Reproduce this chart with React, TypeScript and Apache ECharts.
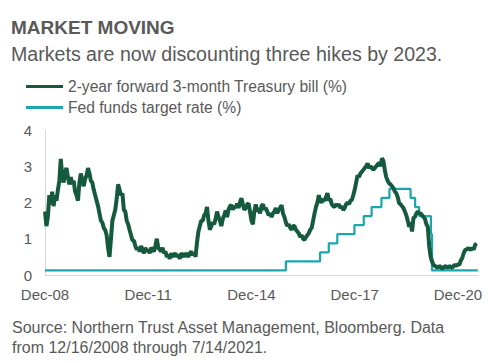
import React, { useEffect, useRef } from "react";
import * as echarts from "echarts";

const titleText = "MARKET MOVING";
const subtitleText = "Markets are now discounting three hikes by 2023.";
const sourceLines = [
  "Source: Northern Trust Asset Management, Bloomberg. Data",
  "from 12/16/2008 through 7/14/2021.",
];
const seriesNames = ["2-year forward 3-month Treasury bill (%)", "Fed funds target rate (%)"];
const xTickLabels = ["Dec-08", "Dec-11", "Dec-14", "Dec-17", "Dec-20"];
const yTicks = [0, 1, 2, 3, 4];

// 2-year forward 3-month T-bill, two readings per month starting 2008-12-16
const greenStart = "2008-12-16";
const greenValues = [
  1.75, 1.35, 1.6, 2.2, 1.95, 2.3, 1.9, 2.2, 2.05, 2.35,
  2.6, 3.2, 2.75, 2.55, 2.85, 2.95, 2.7, 2.5, 2.7, 2.5,
  2.6, 2.3, 2.2, 2.05, 2.55, 2.8, 2.6, 2.45, 2.65, 2.75,
  2.95, 2.8, 2.6, 2.55, 2.35, 2.2, 2.05, 1.9, 1.7, 1.5,
  1.45, 1.3, 1.24, 1.1, 0.75, 0.5, 1.0, 1.5, 1.65, 1.8,
  2.1, 2.5, 2.35, 2.2, 2.25, 1.8, 1.75, 1.5, 1.4, 1.24,
  1.1, 0.95, 0.95, 0.8, 0.7, 0.75, 0.65, 0.8, 0.7, 0.6,
  0.75, 0.65, 0.7, 0.6, 0.75, 0.7, 0.65, 0.8, 1.0, 0.75,
  0.7, 0.65, 0.75, 0.6, 0.65, 0.5, 0.55, 0.45, 0.6, 0.5,
  0.55, 0.6, 0.5, 0.55, 0.45, 0.6, 0.55, 0.5, 0.6, 0.55,
  0.5, 0.6, 0.65, 0.55, 0.6, 0.5, 0.9, 1.2, 1.35, 1.5,
  1.5, 1.65, 1.7, 1.88, 1.5, 1.25, 1.35, 1.45, 1.4, 1.55,
  1.75, 1.6, 1.5, 1.35, 1.55, 1.65, 1.78, 1.6, 1.8, 1.9,
  1.93, 1.8, 1.9, 1.85, 1.97, 1.85, 2.0, 2.12, 1.95, 1.8,
  1.85, 1.95, 1.97, 1.75, 1.5, 1.4, 1.75, 1.95, 1.75, 1.85,
  1.7, 1.9, 1.95, 1.8, 1.85, 1.75, 1.65, 1.7, 1.6, 1.7,
  1.75, 1.85, 1.7, 1.8, 1.85, 1.93, 1.7, 1.6, 1.45, 1.35,
  1.4, 1.3, 1.25, 1.35, 1.35, 1.25, 1.2, 1.15, 1.05, 1.1,
  1.0, 0.97, 1.05, 1.1, 1.15, 1.25, 1.3, 1.5, 1.7, 1.88,
  2.0, 2.2, 2.05, 2.0, 2.1, 2.05, 2.15, 2.26, 2.05, 2.1,
  1.95, 1.9, 1.88, 1.95, 1.9, 1.95, 1.85, 1.9, 1.79, 1.85,
  1.95, 2.0, 1.95, 2.05, 2.07, 2.2, 2.35, 2.55, 2.75, 2.7,
  2.8, 2.85, 2.9, 2.95, 3.0, 3.08, 2.95, 3.0, 2.95, 2.9,
  2.95, 3.0, 3.05, 3.1, 3.0, 3.22, 3.15, 2.9, 2.7, 2.6,
  2.53, 2.5, 2.45, 2.4, 2.3, 2.26, 2.15, 1.98, 1.95, 1.9,
  1.85, 1.75, 1.65, 1.5, 1.33, 1.45, 1.2, 1.58, 1.6, 1.7,
  1.75, 1.7, 1.7, 1.65, 1.6, 1.55, 1.4, 1.33, 0.78, 0.5,
  0.37, 0.28, 0.25, 0.22, 0.2, 0.25, 0.22, 0.18, 0.2, 0.25,
  0.22, 0.2, 0.25, 0.22, 0.2, 0.25, 0.28, 0.25, 0.3, 0.28,
  0.4, 0.47, 0.6, 0.69, 0.7, 0.74, 0.72, 0.69, 0.75, 0.7,
  0.83, 0.87,
];

// Fed funds target (midpoint of range), effective dates of changes
const fedDates = [
  "2008-12-16", "2015-12-16", "2016-12-14", "2017-03-15", "2017-06-14",
  "2017-12-13", "2018-03-21", "2018-06-13", "2018-09-26", "2018-12-19",
  "2019-07-31", "2019-09-18", "2019-10-30", "2020-03-03", "2020-03-15",
  "2021-07-14",
];
const fedRates = [
  0.125, 0.375, 0.625, 0.875, 1.125,
  1.375, 1.625, 1.875, 2.125, 2.375,
  2.125, 1.875, 1.625, 1.125, 0.125,
  0.125,
];

const dataEnd = "2021-07-14";

// months elapsed since the first observation (2008-12-16)
function toMonths(s: string): number {
  const [y, m, d] = s.split("-").map(Number);
  return (y - 2008) * 12 + (m - 12) + (d - 16) / 30.44;
}

const FONT = "'Liberation Sans', Arial, sans-serif";
const GREY = "#595959";
const GREEN = "#155a3e";
const TEAL = "#1ba6ae";

export default function App() {
  const ref = useRef<HTMLDivElement>(null);
  useEffect(() => {
    document.body.style.margin = "0";
    if (!ref.current) return;
    const chart = echarts.init(ref.current, undefined, { renderer: "svg" });
    const startM = toMonths(greenStart);
    const greenData = greenValues.map((v, i) => [startM + i * 0.5, v]);
    const fedData = fedDates.map((d, i) => [toMonths(d), fedRates[i]]);
    const xMax = Math.ceil(toMonths(dataEnd));

    chart.setOption({
      animation: false,
      backgroundColor: "#ffffff",
      textStyle: { fontFamily: FONT },
      title: [
        {
          text: titleText,
          left: 11,
          top: 18,
          padding: 0,
          textStyle: { fontFamily: FONT, fontSize: 19, fontWeight: "bold", color: GREY },
        },
        {
          text: subtitleText,
          left: 11,
          top: 44,
          padding: 0,
          textStyle: { fontFamily: FONT, fontSize: 19.6, fontWeight: "normal", color: GREY },
        },
      ],
      legend: {
        orient: "vertical",
        left: 26,
        top: 78,
        padding: 0,
        itemWidth: 37,
        itemHeight: 3,
        itemGap: 4,
        icon: "rect",
        textStyle: { fontFamily: FONT, fontSize: 15.6, color: GREY, lineHeight: 17 },
        data: seriesNames,
      },
      grid: { left: 45, right: 22, top: 130, bottom: 88, containLabel: false },
      xAxis: {
        type: "value",
        min: 0,
        max: xMax,
        interval: 36,
        axisLine: { show: true, lineStyle: { color: "#d9d9d9", width: 1 } },
        axisTick: { show: false },
        splitLine: { show: false },
        axisLabel: {
          showMaxLabel: false,
          margin: 12,
          fontFamily: FONT,
          fontSize: 15,
          color: GREY,
          formatter: (v: number) => (v % 36 === 0 ? xTickLabels[v / 36] ?? "" : ""),
        },
      },
      yAxis: {
        type: "value",
        min: yTicks[0],
        max: yTicks[yTicks.length - 1],
        interval: 1,
        axisLine: { show: true, lineStyle: { color: "#d9d9d9", width: 1 } },
        axisTick: { show: false },
        splitLine: { show: false },
        axisLabel: { margin: 13, fontFamily: FONT, fontSize: 15, color: GREY },
      },
      series: [
        {
          name: seriesNames[0],
          type: "line",
          data: greenData,
          showSymbol: false,
          symbol: "none",
          lineStyle: { color: GREEN, width: 4 },
          itemStyle: { color: GREEN },
          z: 3,
        },
        {
          name: seriesNames[1],
          type: "line",
          step: "end",
          data: fedData,
          showSymbol: false,
          symbol: "none",
          lineStyle: { color: TEAL, width: 2.2 },
          itemStyle: { color: TEAL },
          z: 2,
        },
      ],
      graphic: [
        {
          type: "text",
          left: 12,
          top: 317,
          style: {
            text: sourceLines.join("\n"),
            fontFamily: FONT,
            fontSize: 16,
            lineHeight: 20,
            fill: GREY,
          },
        },
      ],
    });
    return () => chart.dispose();
  }, []);
  return <div ref={ref} style={{ width: 500, height: 363 }} />;
}
